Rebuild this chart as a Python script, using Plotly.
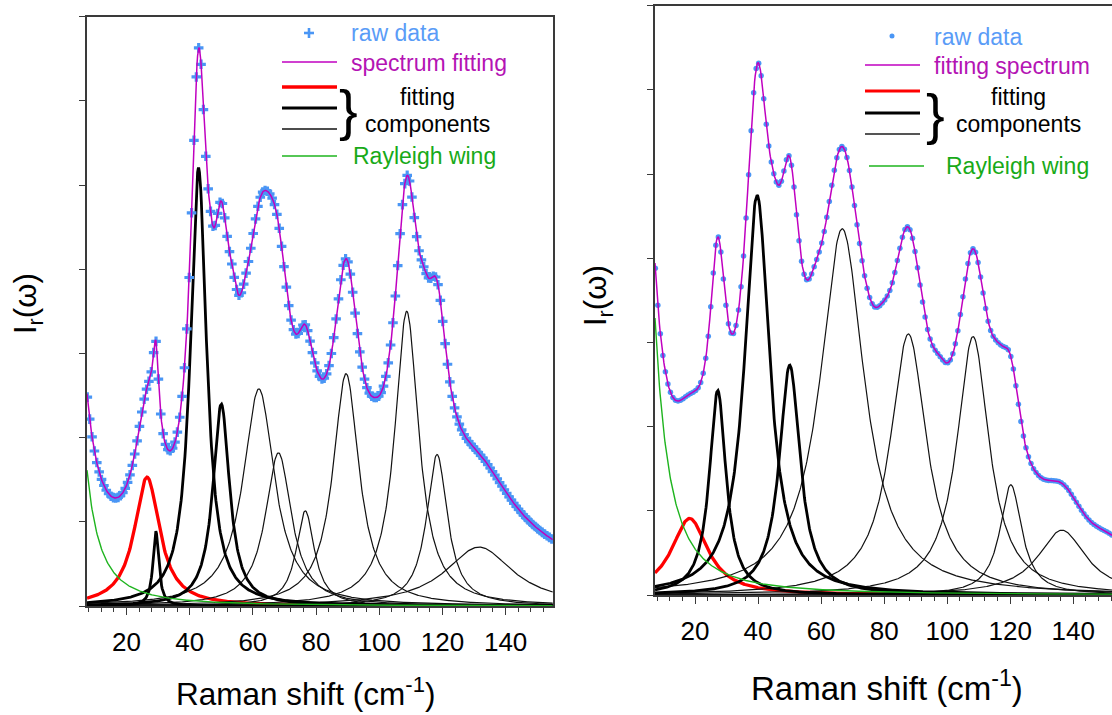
import numpy as np
import plotly.graph_objects as go

W, H = 1112, 715
FONT = "Liberation Sans, Arial, sans-serif"

# ---------------- data ----------------
# Left panel: Lorentzian fitting components (centre cm-1, height, half width)
left_centers = [26.5, 29.3, 42.8, 50.0, 61.9, 68.1, 76.6, 89.5, 108.7, 118.3, 131.6]
left_heights = [1.53, 0.89, 5.20, 2.40, 2.58, 1.82, 1.13, 2.76, 3.50, 1.80, 0.70]
left_hwhm = [4.85, 1.1, 3.1, 3.2, 6.0, 5.0, 3.5, 5.0, 4.6, 4.0, 13.0]
left_styles = ["red", "thick", "thick", "thick", "thin", "thin", "thin", "thin", "thin", "thin", "thin"]
left_rayleigh = (11.7, 3.0)          # amplitude, half width (centred at 0)
# unplotted background included in the spectrum fit (read as raw data minus components)
left_bg_centers = [115.0, 0.0, 29.0, 53.5, 57.5, 65.0, 80.0, 114.0, 46.3, 98.5]
left_bg_heights = [0.78, 0.80, 0.18, 0.70, 0.30, 0.50, 0.25, 0.45, 0.35, 0.12]
left_bg_hwhm = [55.0, 10.0, 2.5, 2.5, 2.5, 5.0, 4.0, 2.5, 1.5, 3.0]
left_range = [7.5, 155.0]
left_raw_step = 0.75

# Right panel
right_centers = [18.3, 27.2, 39.7, 50.05, 66.7, 87.7, 108.2, 120.2, 136.4]
right_heights = [0.91, 2.43, 4.75, 2.73, 4.35, 3.10, 3.07, 1.31, 0.77]
right_hwhm = [7.0, 3.2, 4.8, 4.0, 8.5, 7.0, 6.2, 4.2, 9.3]
right_styles = ["red", "thick", "thick", "thick", "thin", "thin", "thin", "thin", "thin"]
right_rayleigh = (14.25, 4.0)
right_bg_centers = [80.0, 45.0, 58.0, 27.0, 79.5, 97.5, 116.0, 128.0, 152.0]
right_bg_heights = [0.07, 0.75, 0.45, 0.12, 0.37, 0.42, 0.55, 0.10, 0.25]
right_bg_hwhm = [200.0, 3.5, 3.5, 3.0, 4.0, 4.0, 4.0, 5.0, 8.0]
right_range = [7.3, 152.3]
right_raw_step = 0.8

x_tick_vals = [20, 40, 60, 80, 100, 120, 140]
x_tick_text = ["20", "40", "60", "80", "100", "120", "140"]

left_legend_labels = ["raw data", "spectrum fitting", "fitting", "components", "Rayleigh wing"]
right_legend_labels = ["raw data", "fitting spectrum", "fitting", "components", "Rayleigh wing"]

# ---------------- colours / styles ----------------
BLUE = "#4a96f5"
BLUE_TXT = "#5a9cf7"
MAGENTA = "#c000c0"
MAG_TXT = "#b414b4"
GREEN = "#1eb41e"
GREEN_TXT = "#18aa18"
RED = "#ff0000"
AXC = "#3a3a3a"

style_map = {
    "red": dict(color=RED, width=3.3),
    "thick": dict(color="#000000", width=2.8),
    "thin": dict(color="#111111", width=1.2),
}


def lorentz(x, c, h, g):
    return h / (1.0 + ((x - c) / g) ** 2)


def build_panel(centers, heights, hwhm, styles, ray, bgc, bgh, bgw, xr, step, xa, ya, raw_symbol, raw_size):
    xf = np.arange(xr[0], xr[1] + 0.01, 0.2)
    xs = np.arange(xr[0] + 0.1, xr[1], step)

    def model(x):
        tot = lorentz(x, 0.0, ray[0], ray[1])
        for c, h, g in zip(centers, heights, hwhm):
            tot = tot + lorentz(x, c, h, g)
        for c, h, g in zip(bgc, bgh, bgw):
            tot = tot + lorentz(x, c, h, g)
        return tot

    traces = []
    order = [i for i, s in enumerate(styles) if s == "red"] + [i for i, s in enumerate(styles) if s == "thin"] + \
            [i for i, s in enumerate(styles) if s == "thick"]
    for i in order:
        traces.append(go.Scatter(x=xf, y=lorentz(xf, centers[i], heights[i], hwhm[i]), mode="lines",
                                 line=style_map[styles[i]], xaxis=xa, yaxis=ya, showlegend=False,
                                 hoverinfo="skip"))
    traces.append(go.Scatter(x=xf, y=lorentz(xf, 0.0, ray[0], ray[1]), mode="lines",
                             line=dict(color=GREEN, width=1.4), xaxis=xa, yaxis=ya, showlegend=False))
    traces.append(go.Scatter(x=xs, y=model(xs), mode="markers",
                             marker=dict(symbol=raw_symbol, size=raw_size, color=BLUE, line=dict(width=0)),
                             xaxis=xa, yaxis=ya, showlegend=False))
    traces.append(go.Scatter(x=xf, y=model(xf), mode="lines", line=dict(color=MAGENTA, width=1.5),
                             xaxis=xa, yaxis=ya, showlegend=False))
    return traces


fig = go.Figure()
for t in build_panel(left_centers, left_heights, left_hwhm, left_styles, left_rayleigh,
                     left_bg_centers, left_bg_heights, left_bg_hwhm, left_range, left_raw_step,
                     "x", "y", "cross", 8):
    fig.add_trace(t)
for t in build_panel(right_centers, right_heights, right_hwhm, right_styles, right_rayleigh,
                     right_bg_centers, right_bg_heights, right_bg_hwhm, right_range, right_raw_step,
                     "x2", "y2", "circle", 5.5):
    fig.add_trace(t)


def px(v):
    return v / W


def py(v):
    return 1 - v / H


def xaxis_cfg(rng, dom, anchor):
    return dict(domain=dom, range=rng, anchor=anchor, showgrid=False, zeroline=False,
                showline=True, linecolor=AXC, linewidth=1.5, mirror=True,
                tickmode="array", tickvals=x_tick_vals, ticktext=x_tick_text,
                ticks="outside", ticklen=7, tickwidth=1.3, tickcolor=AXC,
                minor=dict(ticks="outside", ticklen=4, tickwidth=1.1, tickcolor=AXC, dtick=4, tick0=0),
                tickfont=dict(family=FONT, size=26, color="#000000"), ticklabelstandoff=5)


def yaxis_cfg(dom, anchor, mirror):
    return dict(domain=dom, range=[0, 7], anchor=anchor, showgrid=False, zeroline=False,
                showline=True, linecolor=AXC, linewidth=1.5, mirror=mirror,
                dtick=1, tick0=0, ticks="outside", ticklen=6, tickwidth=1.3, tickcolor=AXC,
                showticklabels=False)


fig.update_layout(
    width=W, height=H, margin=dict(l=0, r=0, t=0, b=0),
    paper_bgcolor="white", plot_bgcolor="white", showlegend=False,
    xaxis=xaxis_cfg(left_range, [px(87), px(553)], "y"),
    yaxis=yaxis_cfg([1 - 606 / H, 1 - 16.7 / H], "x", True),
    xaxis2=xaxis_cfg(right_range, [px(655), 1.0], "y2"),
    yaxis2=yaxis_cfg([1 - 595 / H, 1 - 5.7 / H], "x2", False),
)

shapes = []
ann = []


def hline(x0, x1, y, color, width):
    shapes.append(dict(type="line", xref="paper", yref="paper", x0=px(x0), x1=px(x1), y0=py(y), y1=py(y),
                       line=dict(color=color, width=width)))


def text(x, y, s, color, size=23, xanchor="left", angle=0):
    ann.append(dict(xref="paper", yref="paper", x=px(x), y=py(y), text=s, showarrow=False,
                    xanchor=xanchor, yanchor="middle", textangle=angle,
                    font=dict(family=FONT, size=size, color=color)))


# ---- left legend ----
hline(304, 314, 33, BLUE, 2.6)
shapes.append(dict(type="line", xref="paper", yref="paper", x0=px(309), x1=px(309), y0=py(28), y1=py(38),
                   line=dict(color=BLUE, width=2.6)))
text(349, 33, left_legend_labels[0], BLUE_TXT)
hline(282, 337, 62, MAGENTA, 1.5)
text(349, 63, left_legend_labels[1], MAG_TXT)
hline(282, 337, 87, RED, 3.5)
hline(282, 337, 108, "#000000", 3.0)
hline(282, 337, 129, "#111111", 1.3)
text(348, 109, "}", "#000000", size=56, xanchor="center")
text(427, 97, left_legend_labels[2], "#000000", xanchor="center")
text(427, 124, left_legend_labels[3], "#000000", xanchor="center")
hline(282, 337, 156, GREEN, 1.5)
text(351, 156, left_legend_labels[4], GREEN_TXT)

# ---- right legend ----
shapes.append(dict(type="circle", xref="paper", yref="paper", x0=px(889.5), x1=px(894.5), y0=py(33.5), y1=py(38.5),
                   fillcolor=BLUE, line=dict(width=0)))
text(932, 37, right_legend_labels[0], BLUE_TXT)
hline(865, 920, 65, MAGENTA, 1.5)
text(932, 66, right_legend_labels[1], MAG_TXT)
hline(865, 920, 91, RED, 3.0)
hline(865, 920, 113, "#000000", 3.0)
hline(865, 920, 134, "#555555", 2.0)
text(935, 113, "}", "#000000", size=56, xanchor="center")
text(1018, 97, right_legend_labels[2], "#000000", xanchor="center")
text(1018, 124, right_legend_labels[3], "#000000", xanchor="center")
hline(869, 924, 166, GREEN, 1.5)
text(944, 166, right_legend_labels[4], GREEN_TXT)

# ---- axis titles ----
text(305, 692, "Raman shift (cm<sup>-1</sup>)", "#000000", size=31.5, xanchor="center")
text(887, 686, "Raman shift (cm<sup>-1</sup>)", "#000000", size=33, xanchor="center")
text(28, 304, "I<sub>r</sub>(ω)", "#000000", size=31, xanchor="center", angle=-90)
text(598, 296, "I<sub>r</sub>(ω)", "#000000", size=31, xanchor="center", angle=-90)

fig.update_layout(shapes=shapes, annotations=ann)
fig.write_html("out.html")
